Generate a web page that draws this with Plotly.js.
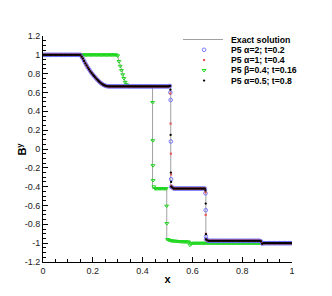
<!DOCTYPE html>
<html>
<head>
<meta charset="utf-8">
<script src="https://cdn.plot.ly/plotly-3.0.1.min.js"></script>
<style>html,body{margin:0;padding:0;background:#fff;}#chart{width:332px;height:296px;}</style>
</head>
<body>
<div id="chart"></div>
<script>
// ---- tick labels ----
var xTickVals = [0, 0.2, 0.4, 0.6, 0.8, 1];
var xTickText = ["0", "0.2", "0.4", "0.6", "0.8", "1"];
var yTickVals = [-1.2, -1, -0.8, -0.6, -0.4, -0.2, 0, 0.2, 0.4, 0.6, 0.8, 1, 1.2];
var yTickText = ["-1.2", "-1", "-0.8", "-0.6", "-0.4", "-0.2", "0", "0.2", "0.4", "0.6", "0.8", "1", "1.2"];

// ---- legend names ----
var seriesNames = ["Exact solution", "P5 \u03b1=2; t=0.2", "P5 \u03b1=1; t=0.4", "P5 \u03b2=0.4; t=0.16", "P5 \u03b1=0.5; t=0.8"];

// ---- exact solution (two profiles, separated by a gap) ----
var exactX = [0, 0.152, 0.16, 0.17, 0.18, 0.19, 0.20, 0.21, 0.22, 0.23, 0.24, 0.253, 0.513, 0.513, 0.654, 0.654, 0.878, 0.878, 1.0,
  null,
  0, 0.298, 0.31, 0.32, 0.33, 0.34, 0.44, 0.44, 0.497, 0.497, 0.59, 0.59, 1.0];
var exactY = [1, 1, 0.96, 0.91, 0.865, 0.825, 0.79, 0.76, 0.73, 0.705, 0.685, 0.665, 0.665, -0.42, -0.42, -0.975, -0.975, -1.0, -1.0,
  null,
  1, 1, 0.89, 0.79, 0.715, 0.665, 0.665, -0.42, -0.42, -0.97, -0.98, -1.0, -1.0];

// ---- shared x grid for the three self-similar runs ----
var xMain = [
  0.000, 0.005, 0.010, 0.015, 0.020, 0.025, 0.030, 0.035, 0.040, 0.045,
  0.050, 0.055, 0.060, 0.065, 0.070, 0.075, 0.080, 0.085, 0.090, 0.095,
  0.100, 0.105, 0.110, 0.115, 0.120, 0.125, 0.130, 0.135, 0.140, 0.145,
  0.150, 0.155, 0.160, 0.165, 0.170, 0.175, 0.180, 0.185, 0.190, 0.195,
  0.200, 0.205, 0.210, 0.215, 0.220, 0.225, 0.230, 0.235, 0.240, 0.245,
  0.250, 0.255, 0.260, 0.265, 0.270, 0.275, 0.280, 0.285, 0.290, 0.295,
  0.300, 0.305, 0.310, 0.315, 0.320, 0.325, 0.330, 0.335, 0.340, 0.345,
  0.350, 0.355, 0.360, 0.365, 0.370, 0.375, 0.380, 0.385, 0.390, 0.395,
  0.400, 0.405, 0.410, 0.415, 0.420, 0.425, 0.430, 0.435, 0.440, 0.445,
  0.450, 0.455, 0.460, 0.465, 0.470, 0.475, 0.480, 0.485, 0.490, 0.495,
  0.500, 0.505, 0.510,
  0.5115, 0.5125, 0.5135, 0.5145,
  0.515, 0.520, 0.525, 0.530, 0.535, 0.540, 0.545, 0.550, 0.555, 0.560,
  0.565, 0.570, 0.575, 0.580, 0.585, 0.590, 0.595, 0.600, 0.605, 0.610,
  0.615, 0.620, 0.625, 0.630, 0.635, 0.640, 0.645, 0.650,
  0.6525, 0.6535, 0.6545,
  0.655, 0.660, 0.665, 0.670, 0.675, 0.680, 0.685, 0.690, 0.695, 0.700,
  0.705, 0.710, 0.715, 0.720, 0.725, 0.730, 0.735, 0.740, 0.745, 0.750,
  0.755, 0.760, 0.765, 0.770, 0.775, 0.780, 0.785, 0.790, 0.795, 0.800,
  0.805, 0.810, 0.815, 0.820, 0.825, 0.830, 0.835, 0.840, 0.845, 0.850,
  0.855, 0.860, 0.865, 0.870, 0.875,
  0.880, 0.885, 0.890, 0.895, 0.900, 0.905, 0.910, 0.915, 0.920, 0.925,
  0.930, 0.935, 0.940, 0.945, 0.950, 0.955, 0.960, 0.965, 0.970, 0.975,
  0.980, 0.985, 0.990, 0.995, 1.000];

// P5 alpha=2; t=0.2
var yA2 = [
  1, 1, 1, 1, 1, 1, 1, 1, 1, 1,
  1, 1, 1, 1, 1, 1, 1, 1, 1, 1,
  1, 1, 1, 1, 1, 1, 1, 1, 1, 1,
  1, 0.98, 0.96, 0.935, 0.91, 0.887, 0.865, 0.845, 0.825, 0.807,
  0.79, 0.775, 0.76, 0.745, 0.73, 0.717, 0.705, 0.695, 0.685, 0.678,
  0.672, 0.668, 0.666, 0.665, 0.665, 0.665, 0.665, 0.665, 0.665, 0.665,
  0.665, 0.665, 0.665, 0.665, 0.665, 0.665, 0.665, 0.665, 0.665, 0.665,
  0.665, 0.665, 0.665, 0.665, 0.665, 0.665, 0.665, 0.665, 0.665, 0.665,
  0.665, 0.665, 0.665, 0.665, 0.665, 0.665, 0.665, 0.665, 0.665, 0.665,
  0.665, 0.665, 0.665, 0.665, 0.665, 0.665, 0.665, 0.665, 0.665, 0.665,
  0.665, 0.665, 0.67,
  0.6, 0.52, 0.08, -0.32,
  -0.40, -0.41, -0.42, -0.42, -0.42, -0.42, -0.42, -0.42, -0.42, -0.42,
  -0.42, -0.42, -0.42, -0.42, -0.42, -0.42, -0.42, -0.42, -0.42, -0.42,
  -0.42, -0.42, -0.42, -0.42, -0.42, -0.42, -0.42, -0.42,
  -0.47, -0.65, -0.93,
  -0.96, -0.97, -0.975, -0.975, -0.975, -0.975, -0.975, -0.975, -0.975, -0.975,
  -0.975, -0.975, -0.975, -0.975, -0.975, -0.975, -0.975, -0.975, -0.975, -0.975,
  -0.975, -0.975, -0.975, -0.975, -0.975, -0.975, -0.975, -0.975, -0.975, -0.975,
  -0.975, -0.975, -0.975, -0.975, -0.975, -0.975, -0.975, -0.975, -0.975, -0.975,
  -0.975, -0.975, -0.975, -0.975, -0.98,
  -1.005, -1, -1, -1, -1, -1, -1, -1, -1, -1,
  -1, -1, -1, -1, -1, -1, -1, -1, -1, -1,
  -1, -1, -1, -1, -1];

// P5 alpha=1; t=0.4
var yA1 = [
  1, 1, 1, 1, 1, 1, 1, 1, 1, 1,
  1, 1, 1, 1, 1, 1, 1, 1, 1, 1,
  1, 1, 1, 1, 1, 1, 1, 1, 1, 1,
  1, 0.98, 0.96, 0.935, 0.91, 0.887, 0.865, 0.845, 0.825, 0.807,
  0.79, 0.775, 0.76, 0.745, 0.73, 0.717, 0.705, 0.695, 0.685, 0.678,
  0.672, 0.668, 0.666, 0.665, 0.665, 0.665, 0.665, 0.665, 0.665, 0.665,
  0.665, 0.665, 0.665, 0.665, 0.665, 0.665, 0.665, 0.665, 0.665, 0.665,
  0.665, 0.665, 0.665, 0.665, 0.665, 0.665, 0.665, 0.665, 0.665, 0.665,
  0.665, 0.665, 0.665, 0.665, 0.665, 0.665, 0.665, 0.665, 0.665, 0.665,
  0.665, 0.665, 0.665, 0.665, 0.665, 0.665, 0.665, 0.665, 0.665, 0.665,
  0.665, 0.665, 0.67,
  0.59, 0.27, -0.05, -0.27,
  -0.39, -0.41, -0.42, -0.42, -0.42, -0.42, -0.42, -0.42, -0.42, -0.42,
  -0.42, -0.42, -0.42, -0.42, -0.42, -0.42, -0.42, -0.42, -0.42, -0.42,
  -0.42, -0.42, -0.42, -0.42, -0.42, -0.42, -0.42, -0.42,
  -0.46, -0.70, -0.90,
  -0.96, -0.97, -0.975, -0.975, -0.975, -0.975, -0.975, -0.975, -0.975, -0.975,
  -0.975, -0.975, -0.975, -0.975, -0.975, -0.975, -0.975, -0.975, -0.975, -0.975,
  -0.975, -0.975, -0.975, -0.975, -0.975, -0.975, -0.975, -0.975, -0.975, -0.975,
  -0.975, -0.975, -0.975, -0.975, -0.975, -0.975, -0.975, -0.975, -0.975, -0.975,
  -0.975, -0.975, -0.975, -0.975, -0.98,
  -1.005, -1, -1, -1, -1, -1, -1, -1, -1, -1,
  -1, -1, -1, -1, -1, -1, -1, -1, -1, -1,
  -1, -1, -1, -1, -1];

// P5 alpha=0.5; t=0.8
var yA05 = [
  1, 1, 1, 1, 1, 1, 1, 1, 1, 1,
  1, 1, 1, 1, 1, 1, 1, 1, 1, 1,
  1, 1, 1, 1, 1, 1, 1, 1, 1, 1,
  1, 0.98, 0.96, 0.935, 0.91, 0.887, 0.865, 0.845, 0.825, 0.807,
  0.79, 0.775, 0.76, 0.745, 0.73, 0.717, 0.705, 0.695, 0.685, 0.678,
  0.672, 0.668, 0.666, 0.665, 0.665, 0.665, 0.665, 0.665, 0.665, 0.665,
  0.665, 0.665, 0.665, 0.665, 0.665, 0.665, 0.665, 0.665, 0.665, 0.665,
  0.665, 0.665, 0.665, 0.665, 0.665, 0.665, 0.665, 0.665, 0.665, 0.665,
  0.665, 0.665, 0.665, 0.665, 0.665, 0.665, 0.665, 0.665, 0.665, 0.665,
  0.665, 0.665, 0.665, 0.665, 0.665, 0.665, 0.665, 0.665, 0.665, 0.665,
  0.665, 0.665, 0.67,
  0.63, 0.15, -0.25, -0.35,
  -0.40, -0.41, -0.42, -0.42, -0.42, -0.42, -0.42, -0.42, -0.42, -0.42,
  -0.42, -0.42, -0.42, -0.42, -0.42, -0.42, -0.42, -0.42, -0.42, -0.42,
  -0.42, -0.42, -0.42, -0.42, -0.42, -0.42, -0.42, -0.42,
  -0.44, -0.58, -0.905,
  -0.96, -0.97, -0.975, -0.975, -0.975, -0.975, -0.975, -0.975, -0.975, -0.975,
  -0.975, -0.975, -0.975, -0.975, -0.975, -0.975, -0.975, -0.975, -0.975, -0.975,
  -0.975, -0.975, -0.975, -0.975, -0.975, -0.975, -0.975, -0.975, -0.975, -0.975,
  -0.975, -0.975, -0.975, -0.975, -0.975, -0.975, -0.975, -0.975, -0.975, -0.975,
  -0.975, -0.975, -0.975, -0.975, -0.98,
  -1.005, -1, -1, -1, -1, -1, -1, -1, -1, -1,
  -1, -1, -1, -1, -1, -1, -1, -1, -1, -1,
  -1, -1, -1, -1, -1];

// P5 beta=0.4; t=0.16
var xB = [
  0.000, 0.005, 0.010, 0.015, 0.020, 0.025, 0.030, 0.035, 0.040, 0.045,
  0.050, 0.055, 0.060, 0.065, 0.070, 0.075, 0.080, 0.085, 0.090, 0.095,
  0.100, 0.105, 0.110, 0.115, 0.120, 0.125, 0.130, 0.135, 0.140, 0.145,
  0.150, 0.155, 0.160, 0.165, 0.170, 0.175, 0.180, 0.185, 0.190, 0.195,
  0.200, 0.205, 0.210, 0.215, 0.220, 0.225, 0.230, 0.235, 0.240, 0.245,
  0.250, 0.255, 0.260, 0.265, 0.270, 0.275, 0.280, 0.285, 0.290, 0.295,
  0.300, 0.305, 0.310, 0.315, 0.320, 0.325, 0.330, 0.335, 0.340, 0.345,
  0.350, 0.355, 0.360, 0.365, 0.370, 0.375, 0.380, 0.385, 0.390, 0.395,
  0.400, 0.405, 0.410, 0.415, 0.420, 0.425, 0.430, 0.435, 0.440,
  0.4405, 0.441, 0.4415, 0.442,
  0.445, 0.450, 0.455, 0.460, 0.465, 0.470, 0.475, 0.480, 0.485, 0.490,
  0.495,
  0.4965, 0.4975,
  0.500, 0.505, 0.510, 0.515, 0.520, 0.525, 0.530, 0.535, 0.540, 0.545,
  0.550, 0.555, 0.560, 0.565, 0.570, 0.575, 0.580, 0.585, 0.590, 0.595,
  0.600, 0.605, 0.610, 0.615, 0.620, 0.625, 0.630, 0.635, 0.640, 0.645,
  0.650, 0.655, 0.660, 0.665, 0.670, 0.675, 0.680, 0.685, 0.690, 0.695,
  0.700, 0.705, 0.710, 0.715, 0.720, 0.725, 0.730, 0.735, 0.740, 0.745,
  0.750, 0.755, 0.760, 0.765, 0.770, 0.775, 0.780, 0.785, 0.790, 0.795,
  0.800, 0.805, 0.810, 0.815, 0.820, 0.825, 0.830, 0.835, 0.840, 0.845,
  0.850, 0.855, 0.860, 0.865, 0.870, 0.875, 0.880, 0.885, 0.890, 0.895,
  0.900, 0.905, 0.910, 0.915, 0.920, 0.925, 0.930, 0.935, 0.940, 0.945,
  0.950, 0.955, 0.960, 0.965, 0.970, 0.975, 0.980, 0.985, 0.990, 0.995,
  1.000];
var yB = [
  1, 1, 1, 1, 1, 1, 1, 1, 1, 1,
  1, 1, 1, 1, 1, 1, 1, 1, 1, 1,
  1, 1, 1, 1, 1, 1, 1, 1, 1, 1,
  1, 1, 1, 1, 1, 1, 1, 1, 1, 1,
  1, 1, 1, 1, 1, 1, 1, 1, 1, 1,
  1, 1, 1, 1, 1, 1, 1, 1, 1, 1,
  0.99, 0.93, 0.88, 0.835, 0.79, 0.75, 0.71, 0.685, 0.672, 0.667,
  0.665, 0.665, 0.665, 0.665, 0.665, 0.665, 0.665, 0.665, 0.665, 0.665,
  0.665, 0.665, 0.665, 0.665, 0.665, 0.665, 0.665, 0.665, 0.665,
  0.495, 0.09, -0.175, -0.333,
  -0.40, -0.42, -0.42, -0.42, -0.42, -0.42, -0.42, -0.42, -0.42, -0.42,
  -0.42,
  -0.605, -0.79,
  -0.96, -0.965, -0.97, -0.975, -0.976, -0.977, -0.978, -0.979, -0.98, -0.981,
  -0.982, -0.983, -0.984, -0.985, -0.985, -0.986, -0.986, -0.987, -1.02, -1.005,
  -1, -1, -1, -1, -1, -1, -1, -1, -1, -1,
  -1, -1, -1, -1, -1, -1, -1, -1, -1, -1,
  -1, -1, -1, -1, -1, -1, -1, -1, -1, -1,
  -1, -1, -1, -1, -1, -1, -1, -1, -1, -1,
  -1, -1, -1, -1, -1, -1, -1, -1, -1, -1,
  -1, -1, -1, -1, -1, -1, -1, -1, -1, -1,
  -1, -1, -1, -1, -1, -1, -1, -1, -1, -1,
  -1, -1, -1, -1, -1, -1, -1, -1, -1, -1,
  -1];

// ---- styles ----
var FONT = "Liberation Sans, Arial, Helvetica, sans-serif";
var exactLine = {color: "#a0a0a0", width: 1};
var mA2 = {symbol: "circle-open", size: 3.6, color: "#6a6aff", line: {width: 0.9}};
var mA1 = {symbol: "square", size: 2.2, color: "#e85a5a"};
var mB = {symbol: "triangle-down-open", size: 3.4, color: "#20d820", line: {width: 1}};
var mA05 = {symbol: "circle", size: 2.3, color: "#000"};

// legend key layout (paper fractions of the plot area)
var legKeyX0 = 0.562, legKeyX1 = 0.723, legKeyXm = 0.647, legTextX = 0.747;
var legRowY = [0.9845, 0.939, 0.8936, 0.848, 0.8026];

var traces = [
  {x: exactX, y: exactY, type: "scatter", mode: "lines", name: seriesNames[0], line: exactLine, connectgaps: false},
  {x: xB, y: yB, type: "scatter", mode: "markers", name: seriesNames[3], marker: mB},
  {x: xMain, y: yA2, type: "scatter", mode: "markers", name: seriesNames[1], marker: mA2},
  {x: xMain, y: yA1, type: "scatter", mode: "markers", name: seriesNames[2], marker: mA1},
  {x: xMain, y: yA05, type: "scatter", mode: "markers", name: seriesNames[4], marker: mA05},
  // legend keys (on an overlay axis spanning the plot area 0..1)
  {x: [legKeyX0, legKeyX1], y: [legRowY[0], legRowY[0]], xaxis: "x2", yaxis: "y2", type: "scatter", mode: "lines", line: exactLine, hoverinfo: "skip"},
  {x: [legKeyXm], y: [legRowY[1]], xaxis: "x2", yaxis: "y2", type: "scatter", mode: "markers", marker: mA2, hoverinfo: "skip"},
  {x: [legKeyXm], y: [legRowY[2]], xaxis: "x2", yaxis: "y2", type: "scatter", mode: "markers", marker: mA1, hoverinfo: "skip"},
  {x: [legKeyXm], y: [legRowY[3]], xaxis: "x2", yaxis: "y2", type: "scatter", mode: "markers", marker: mB, hoverinfo: "skip"},
  {x: [legKeyXm], y: [legRowY[4]], xaxis: "x2", yaxis: "y2", type: "scatter", mode: "markers", marker: mA05, hoverinfo: "skip"}
];

var annotations = [];
for (var i = 0; i < seriesNames.length; i++) {
  annotations.push({xref: "paper", yref: "paper", x: legTextX, y: legRowY[i], xanchor: "left", yanchor: "middle",
    showarrow: false, text: seriesNames[i], font: {family: FONT, size: 8.7, color: "#000", weight: "bold"}});
}
annotations.push({xref: "paper", yref: "paper", x: -0.086, y: 0.5, xanchor: "center", yanchor: "middle", textangle: -90,
  showarrow: false, text: "B<sup>y</sup>", font: {family: FONT, size: 11, color: "#000", weight: "bold"}});

var tickFont = {family: FONT, size: 9, color: "#222"};

var layout = {
  width: 332, height: 296,
  margin: {l: 43, r: 40, t: 36, b: 34, pad: 0},
  paper_bgcolor: "#fff", plot_bgcolor: "#fff",
  showlegend: false,
  annotations: annotations,
  xaxis: {range: [0, 1], tickvals: xTickVals, ticktext: xTickText, ticks: "inside", ticklen: 5,
          tickcolor: "#000", showline: true, linecolor: "#000", linewidth: 1, showgrid: false, zeroline: false,
          minor: {dtick: 0.05, ticks: "inside", ticklen: 3, tickcolor: "#000", showgrid: false},
          tickfont: tickFont,
          title: {text: "x", font: {family: FONT, size: 11, color: "#000", weight: "bold"}, standoff: 0}},
  yaxis: {range: [-1.2, 1.2], tickvals: yTickVals, ticktext: yTickText, ticks: "inside", ticklen: 5,
          tickcolor: "#000", showline: true, linecolor: "#000", linewidth: 1, showgrid: false, zeroline: false,
          minor: {dtick: 0.05, ticks: "inside", ticklen: 3, tickcolor: "#000", showgrid: false},
          tickfont: tickFont},
  xaxis2: {range: [0, 1], overlaying: "x", anchor: "y2", visible: false, fixedrange: true},
  yaxis2: {range: [0, 1], overlaying: "y", anchor: "x2", visible: false, fixedrange: true}
};

Plotly.newPlot("chart", traces, layout, {displayModeBar: false, staticPlot: true});
</script>
</body>
</html>
